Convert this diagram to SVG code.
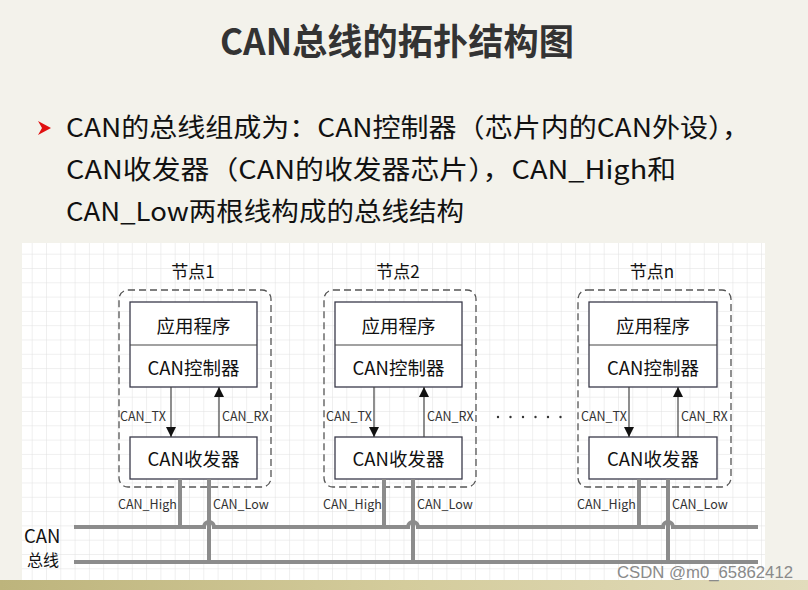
<svg xmlns="http://www.w3.org/2000/svg" width="808" height="590" viewBox="0 0 808 590">
<defs>
<pattern id="grid" x="31.7" y="253.7" width="14.3" height="14.3" patternUnits="userSpaceOnUse">
<path d="M0,0 H14.3 M0,0 V14.3" fill="none" stroke="#e0e0e0" stroke-width="1"/>
</pattern>
<linearGradient id="band" x1="0" y1="0" x2="1" y2="0">
<stop offset="0" stop-color="#bdb47c"/>
<stop offset="0.5" stop-color="#d4cc9c"/>
<stop offset="1" stop-color="#e2dcbc"/>
</linearGradient>
<linearGradient id="sep" x1="0" y1="0" x2="1" y2="0">
<stop offset="0" stop-color="#e6e2cc" stop-opacity="0.3"/>
<stop offset="0.5" stop-color="#d6d0b0"/>
<stop offset="1" stop-color="#e6e2cc" stop-opacity="0.3"/>
</linearGradient>
<marker id="arr" viewBox="0 0 10 10" refX="10" refY="5" markerWidth="10" markerHeight="10" markerUnits="userSpaceOnUse" orient="auto">
<path d="M0,0 L10,5 L0,10 Z" fill="#111"/>
</marker>
<style>
.dash{fill:none;stroke:#555;stroke-width:1.3;stroke-dasharray:7,4}
.box{fill:#fff;stroke:#3a3a4a;stroke-width:1.3}
.ln{fill:none;stroke:#444;stroke-width:1.2}
.bus{fill:none;stroke:#8c8c8c;stroke-width:4}
.t{font-family:"Noto Sans CJK SC","Microsoft YaHei",sans-serif;fill:#111}
.big{font-size:18.5px;text-anchor:middle}
.sm{font-size:12.5px;fill:#333}
.hd{font-size:17px;text-anchor:middle}
</style>
</defs>
<rect width="808" height="590" fill="#f3f2eb"/>
<rect x="0" y="580" width="808" height="10" fill="url(#band)"/>
<line x1="25" y1="83" x2="768" y2="83" stroke="url(#sep)" stroke-width="2"/>
<text x="397" y="55" class="t" font-size="36" font-weight="bold" text-anchor="middle" textLength="354" lengthAdjust="spacingAndGlyphs" style="fill:#333">CAN总线的拓扑结构图</text>
<path d="M38,121 L51,128 L38,135 L42,128 Z" fill="#e01010"/>
<text x="66" y="137" class="t" font-size="26" textLength="684" lengthAdjust="spacingAndGlyphs">CAN的总线组成为：CAN控制器（芯片内的CAN外设），</text>
<text x="66" y="179" class="t" font-size="26" textLength="610" lengthAdjust="spacingAndGlyphs">CAN收发器（CAN的收发器芯片），CAN_High和</text>
<text x="66" y="221" class="t" font-size="26" textLength="398" lengthAdjust="spacingAndGlyphs">CAN_Low两根线构成的总线结构</text>
<rect x="22" y="243" width="743" height="337" fill="#fff"/>
<rect x="22" y="243" width="743" height="337" fill="url(#grid)"/>
<g id="node1">
<text x="193" y="278" class="t hd">节点1</text>
<rect x="119" y="290" width="152" height="197" rx="9" class="dash"/>
<rect x="130" y="302" width="127" height="85" class="box"/>
<line x1="130" y1="345" x2="257" y2="345" class="ln" stroke="#3a3a4a"/>
<text x="193.5" y="333" class="t big">应用程序</text>
<text x="193.5" y="374.5" class="t big">CAN控制器</text>
<rect x="130" y="437" width="127" height="42" class="box"/>
<text x="193.5" y="465.5" class="t big">CAN收发器</text>
<text x="120" y="421" class="t sm">CAN_TX</text>
<text x="222" y="421" class="t sm">CAN_RX</text>
</g>
<g id="node2">
<text x="398" y="278" class="t hd">节点2</text>
<rect x="324" y="290" width="152" height="197" rx="9" class="dash"/>
<rect x="335" y="302" width="127" height="85" class="box"/>
<line x1="335" y1="345" x2="462" y2="345" class="ln" stroke="#3a3a4a"/>
<text x="398.5" y="333" class="t big">应用程序</text>
<text x="398.5" y="374.5" class="t big">CAN控制器</text>
<rect x="335" y="437" width="127" height="42" class="box"/>
<text x="398.5" y="465.5" class="t big">CAN收发器</text>
<text x="326" y="421" class="t sm">CAN_TX</text>
<text x="427" y="421" class="t sm">CAN_RX</text>
</g>
<g id="dots" fill="#333">
<circle cx="498" cy="417" r="1.2"/><circle cx="510.5" cy="417" r="1.2"/><circle cx="523" cy="417" r="1.2"/><circle cx="535.5" cy="417" r="1.2"/><circle cx="548" cy="417" r="1.2"/><circle cx="560.5" cy="417" r="1.2"/>
</g>
<g id="noden">
<text x="652" y="278" class="t hd">节点n</text>
<rect x="578" y="290" width="153" height="197" rx="9" class="dash"/>
<rect x="589" y="302" width="128" height="85" class="box"/>
<line x1="589" y1="345" x2="717" y2="345" class="ln" stroke="#3a3a4a"/>
<text x="653" y="333" class="t big">应用程序</text>
<text x="653" y="374.5" class="t big">CAN控制器</text>
<rect x="589" y="437" width="128" height="42" class="box"/>
<text x="653" y="465.5" class="t big">CAN收发器</text>
<text x="581" y="421" class="t sm">CAN_TX</text>
<text x="681" y="421" class="t sm">CAN_RX</text>
</g>
<g id="bus">
<text x="24" y="543" class="t" font-size="18.5">CAN</text>
<text x="27" y="566" class="t" font-size="16">总线</text>
<text x="118" y="509" class="t sm">CAN_High</text>
<text x="213" y="509" class="t sm">CAN_Low</text>
<text x="323" y="509" class="t sm">CAN_High</text>
<text x="417" y="509" class="t sm">CAN_Low</text>
<text x="577" y="509" class="t sm">CAN_High</text>
<text x="672" y="509" class="t sm">CAN_Low</text>
</g>
<g id="connectors">
<line x1="171" y1="387" x2="171" y2="437" class="ln" marker-end="url(#arr)"/>
<line x1="219" y1="437" x2="219" y2="387" class="ln" marker-end="url(#arr)"/>
<line x1="374" y1="387" x2="374" y2="437" class="ln" marker-end="url(#arr)"/>
<line x1="424" y1="437" x2="424" y2="387" class="ln" marker-end="url(#arr)"/>
<line x1="629" y1="387" x2="629" y2="437" class="ln" marker-end="url(#arr)"/>
<line x1="678" y1="437" x2="678" y2="387" class="ln" marker-end="url(#arr)"/>
<path d="M74,527 H204 A5,5 0 0 1 214,527 H408 A5,5 0 0 1 418,527 H663 A5,5 0 0 1 673,527 H758" class="bus"/>
<path d="M74,562 H758" class="bus"/>
<path d="M180,479 V527 M384,479 V527 M639,479 V527" class="bus"/>
<path d="M209,479 V562 M413,479 V562 M668,479 V562" class="bus"/>
</g>
<text x="617" y="578" font-family="Liberation Sans, sans-serif" font-size="16" fill="#8a8a8a" textLength="176" lengthAdjust="spacingAndGlyphs">CSDN @m0_65862412</text>
</svg>
